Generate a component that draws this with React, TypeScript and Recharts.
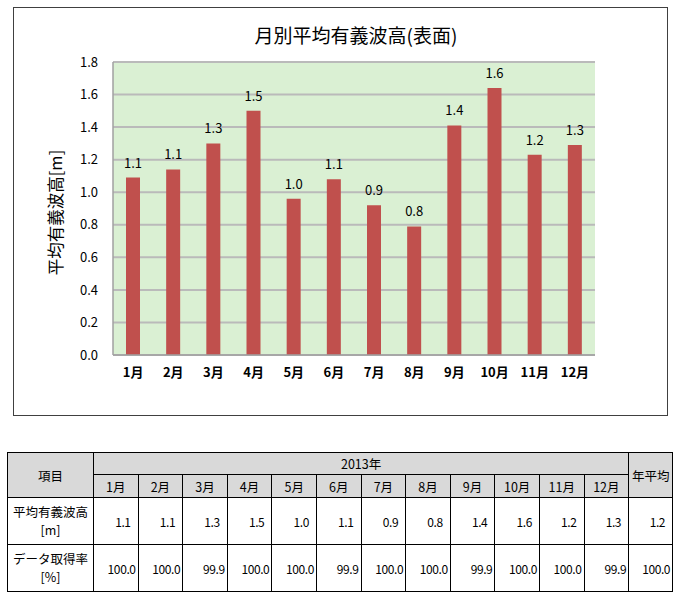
import { Bar, BarChart, CartesianGrid, Label, LabelList, XAxis, YAxis } from "recharts";

const months = ["1月", "2月", "3月", "4月", "5月", "6月", "7月", "8月", "9月", "10月", "11月", "12月"];
const waveHeights = [1.09, 1.14, 1.3, 1.5, 0.96, 1.08, 0.92, 0.79, 1.41, 1.64, 1.23, 1.29];
const captureRates = [100.0, 100.0, 99.9, 100.0, 100.0, 99.9, 100.0, 100.0, 99.9, 100.0, 100.0, 99.9];
const yTicks = [0, 0.2, 0.4, 0.6, 0.8, 1.0, 1.2, 1.4, 1.6, 1.8];
const annualWave = 1.2;
const annualRate = 100.0;
const yearLabel = "2013年";

const data = months.map((m, i) => ({ month: m, wave: waveHeights[i] }));

const font = "'Noto Sans CJK JP', 'Noto Sans', sans-serif";

function YLabel(props: any) {
  const { viewBox } = props;
  const cx = viewBox.x + 41;
  const cy = viewBox.y + viewBox.height / 2 + 4;
  return (
    <text
      x={cx}
      y={cy}
      transform={`rotate(-90, ${cx}, ${cy})`}
      textAnchor="middle"
      dominantBaseline="central"
      fontSize={16.5}
      fill="#000"
    >
      平均有義波高[m]
    </text>
  );
}

const cell: React.CSSProperties = {
  border: "1px solid #000",
  padding: 0,
  fontSize: 12.5,
  textAlign: "center",
};
const head: React.CSSProperties = { ...cell, background: "#d9d9d9" };
const num: React.CSSProperties = { ...cell, textAlign: "right", fontSize: 12, letterSpacing: "-0.4px" };
const rowHead: React.CSSProperties = { ...cell, lineHeight: "18px" };
const centerLine: React.CSSProperties = {
  position: "absolute",
  left: "50%",
  transform: "translateX(-50%)",
  whiteSpace: "nowrap",
};

function RowLabel({ name, unit }: { name: string; unit: string }) {
  return (
    <td style={rowHead}>
      <div style={{ position: "relative", height: 36 }}>
        <span style={{ ...centerLine, top: 0 }}>{name}</span>
        <span style={{ ...centerLine, top: 18 }}>{unit}</span>
      </div>
    </td>
  );
}

export default function App() {
  return (
    <div style={{ position: "absolute", left: 0, top: 0, width: 680, height: 599, fontFamily: font, background: "#fff" }}>
      <div
        style={{
          position: "absolute",
          left: 13,
          top: 7,
          width: 655,
          height: 409,
          border: "1px solid #404040",
          boxSizing: "border-box",
        }}
      >
        <div
          style={{
            position: "absolute",
            left: 342,
            top: 15,
            transform: "translateX(-50%)",
            fontSize: 19,
            lineHeight: "24px",
            whiteSpace: "nowrap",
            color: "#000",
          }}
        >
          月別平均有義波高(表面)
        </div>
        <BarChart width={653} height={407} data={data} margin={{ top: 54, right: 72, bottom: 30, left: 0 }}>
          <CartesianGrid vertical={false} fill="#daf0d3" stroke="#bababa" strokeWidth={2} />
          <XAxis
            dataKey="month"
            height={30}
            tickLine={false}
            tickMargin={7}
            axisLine={{ stroke: "#a0a0a0", strokeWidth: 1.5 }}
            tick={{ fontSize: 13, fontWeight: "bold", fill: "#000" }}
            interval={0}
          />
          <XAxis xAxisId="t" dataKey="month" orientation="top" height={0} tick={false} tickLine={false} axisLine={{ stroke: "#a0a0a0" }} />
          <YAxis
            width={99}
            domain={[0, 1.8]}
            ticks={yTicks}
            tickLine={false}
            tickMargin={9}
            axisLine={{ stroke: "#a0a0a0", strokeWidth: 1.5 }}
            tick={{ fontSize: 13, fill: "#000" }}
            tickFormatter={(v: number) => v.toFixed(1)}
          >
            <Label content={YLabel} />
          </YAxis>
          <YAxis yAxisId="r" orientation="right" width={0} domain={[0, 1]} tick={false} tickLine={false} axisLine={{ stroke: "#a0a0a0", strokeWidth: 1.5 }} />
          <Bar dataKey="wave" fill="#c0504d" barSize={14} isAnimationActive={false}>
            <LabelList
              dataKey="wave"
              position="top"
              offset={10}
              fontSize={13}
              fill="#000"
              formatter={(v: any) => Number(v).toFixed(1)}
            />
          </Bar>
        </BarChart>
      </div>

      <table
        style={{
          position: "absolute",
          left: 7,
          top: 452,
          width: 666,
          borderCollapse: "collapse",
          tableLayout: "fixed",
          color: "#000",
          textAlign: "center",
        }}
      >
        <colgroup>
          <col style={{ width: 86 }} />
          {months.map((m) => (
            <col key={m} style={{ width: 44.6 }} />
          ))}
          <col style={{ width: 44 }} />
        </colgroup>
        <tbody>
          <tr style={{ height: 22 }}>
            <td rowSpan={2} style={head}>項目</td>
            <td colSpan={12} style={head}>{yearLabel}</td>
            <td rowSpan={2} style={head}>年平均</td>
          </tr>
          <tr style={{ height: 23 }}>
            {months.map((m) => (
              <td key={m} style={head}>{m}</td>
            ))}
          </tr>
          <tr style={{ height: 47 }}>
            <RowLabel name="平均有義波高" unit="[m]" />
            {waveHeights.map((v, i) => (
              <td key={i} style={{ ...num, paddingRight: 7 }}>{v.toFixed(1)}</td>
            ))}
            <td style={{ ...num, paddingRight: 7 }}>{annualWave.toFixed(1)}</td>
          </tr>
          <tr style={{ height: 47 }}>
            <RowLabel name="データ取得率" unit="[%]" />
            {captureRates.map((v, i) => (
              <td key={i} style={{ ...num, paddingRight: 2 }}>{v.toFixed(1)}</td>
            ))}
            <td style={{ ...num, paddingRight: 2 }}>{annualRate.toFixed(1)}</td>
          </tr>
        </tbody>
      </table>
    </div>
  );
}
